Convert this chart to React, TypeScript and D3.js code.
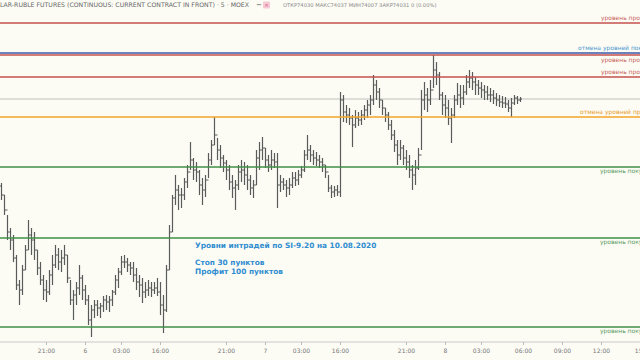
import React, { useRef, useEffect } from 'react'
import * as d3 from 'd3'

// 5-min bars (thinned), SI-9.20, prices
const highs = [
  73615, 73555, 73455, 73390, 73355, 73255, 73130, 73205, 73305, 73430, 73390, 73370, 73280, 73220, 73155, 73130,
  73180, 73255, 73305, 73290, 73280, 73305, 73255, 73130, 73080, 73120, 73205, 73155, 73105, 73055, 73005, 73030,
  73030, 73015, 73050, 73055, 73050, 73080, 73155, 73190, 73250, 73255, 73240, 73220, 73220, 73190, 73155, 73140,
  73120, 73130, 73120, 73120, 73140, 73120, 73055, 73205, 73405, 73555, 73655, 73605, 73590, 73640, 73705, 73820,
  73740, 73720, 73680, 73640, 73655, 73765, 73830, 73945, 73840, 73805, 73755, 73730, 73705, 73655, 73630, 73705,
  73730, 73720, 73705, 73655, 73630, 73780, 73820, 73845, 73790, 73755, 73780, 73765, 73765, 73655, 73640, 73630,
  73640, 73670, 73670, 73680, 73700, 73780, 73855, 73805, 73780, 73770, 73755, 73740, 73705, 73655, 73605, 73600,
  73605, 74070, 74055, 74005, 73990, 73955, 73980, 73970, 73980, 74005, 74030, 74055, 74155, 74130, 74090, 74030,
  73990, 73970, 73930, 73880, 73830, 73830, 73805, 73780, 73755, 73705, 73730, 73790, 74080, 74120, 74090, 74130,
  74255, 74220, 74170, 74070, 74055, 74030, 73990, 74055, 74115, 74105, 74105, 74155, 74180, 74170, 74145, 74130,
  74120, 74105, 74100, 74090, 74080, 74065, 74055, 74050, 74045, 74030, 74040, 74055, 74050, 74045,
]
const lows = [
  73530, 73455, 73330, 73280, 73220, 73080, 73005, 73055, 73180, 73280, 73255, 73230, 73155, 73105, 73030, 73020,
  73055, 73105, 73190, 73180, 73170, 73205, 73115, 73005, 72930, 73005, 73055, 73030, 73005, 72905, 72845, 72940,
  72950, 72940, 72970, 72980, 72970, 73000, 73055, 73090, 73155, 73190, 73170, 73155, 73120, 73080, 73045, 73015,
  73040, 73050, 73045, 73060, 73050, 72955, 72865, 72970, 73180, 73370, 73505, 73480, 73490, 73530, 73590, 73680,
  73630, 73620, 73555, 73505, 73545, 73640, 73705, 73805, 73730, 73690, 73670, 73630, 73580, 73540, 73480, 73580,
  73620, 73605, 73580, 73555, 73540, 73605, 73680, 73730, 73690, 73670, 73680, 73690, 73490, 73570, 73580, 73545,
  73555, 73590, 73600, 73605, 73640, 73670, 73730, 73720, 73705, 73700, 73690, 73670, 73640, 73570, 73540, 73545,
  73550, 73545, 73920, 73915, 73905, 73795, 73890, 73900, 73905, 73930, 73940, 73955, 74005, 74030, 73990, 73955,
  73920, 73880, 73830, 73770, 73705, 73730, 73705, 73680, 73640, 73580, 73605, 73680, 73780, 73980, 73970, 74005,
  74090, 74105, 74030, 73955, 73940, 73905, 73815, 73940, 74005, 73990, 74005, 74055, 74090, 74080, 74055, 74055,
  74040, 74030, 74030, 74020, 74010, 74000, 73995, 73990, 73990, 73970, 73945, 74005, 74010, 74020,
]
const closes = [
  73555, 73480, 73370, 73330, 73240, 73105, 73080, 73180, 73280, 73355, 73330, 73280, 73190, 73130, 73080, 73070,
  73155, 73205, 73255, 73220, 73240, 73255, 73140, 73030, 73055, 73090, 73140, 73080, 73030, 72930, 72980, 73005,
  72990, 73000, 73030, 73020, 73030, 73070, 73130, 73170, 73220, 73220, 73205, 73190, 73155, 73120, 73105, 73070,
  73080, 73090, 73080, 73090, 73070, 73005, 72980, 73180, 73370, 73540, 73580, 73555, 73555, 73620, 73670, 73730,
  73680, 73670, 73605, 73580, 73630, 73730, 73805, 73855, 73780, 73740, 73715, 73680, 73620, 73590, 73605, 73670,
  73680, 73655, 73630, 73590, 73605, 73740, 73780, 73790, 73730, 73705, 73730, 73720, 73605, 73620, 73605, 73590,
  73605, 73640, 73630, 73655, 73680, 73755, 73780, 73755, 73740, 73730, 73720, 73705, 73670, 73590, 73570, 73580,
  73570, 74030, 73970, 73955, 73940, 73905, 73940, 73930, 73955, 73980, 74005, 74030, 74105, 74070, 74030, 73990,
  73955, 73905, 73855, 73805, 73755, 73790, 73740, 73720, 73680, 73655, 73690, 73755, 74030, 74055, 74030, 74080,
  74180, 74155, 74055, 74005, 73990, 73940, 73955, 74030, 74055, 74040, 74070, 74120, 74140, 74120, 74105, 74090,
  74080, 74070, 74055, 74055, 74040, 74030, 74020, 74015, 74010, 73990, 74015, 74040, 74030, 74035,
]
const firstOpen = 73600

// levels for 10.08.2020
const levelPrices = [74415, 74265, 74255, 74145, 73945, 73695, 73340, 72895]
const levelKinds = ['sell', 'cancelBuy', 'sell', 'sell', 'cancelSell', 'buy', 'buy', 'buy']
const levelNames = {
  sell: 'уровень продаж',
  buy: 'уровень покупок',
  cancelBuy: 'отмена уровней покупок',
  cancelSell: 'отмена уровней продаж',
}

const tickIndex = [15, 28, 40, 53, 75, 88, 100, 113, 135, 148, 160, 174, 187, 200, 214]
const tickLabels = ['21:00', '6', '03:00', '16:00', '21:00', '7', '03:00', '16:00', '21:00', '8', '03:00', '06:00', '09:00', '12:00', '15:00']

const noteLines = ['Уровни интрадей по SI-9.20 на 10.08.2020', 'Стоп 30 пунктов', 'Профит 100 пунктов']

export default function App() {
  const svgRef = useRef<SVGSVGElement>(null)

  useEffect(() => {
    const svg = d3.select(svgRef.current)
    svg.selectAll('*').remove()

    const width = 640, height = 360, plotBottom = 342
    const font = '"DejaVu Sans", "Liberation Sans", sans-serif'

    svg.append('rect').attr('width', width).attr('height', height).attr('fill', '#fcfcf5')

    const x = d3.scaleLinear().domain([0, 213]).range([1, 640])
    const y = d3.scaleLinear().domain([72820, 74530]).range([plotBottom, 0])

    const colors = { sell: '#c4514c', buy: '#3f8f45', cancelBuy: '#3b5aa8', cancelSell: '#f2a428' }
    const textColors = { sell: '#c9605a', buy: '#5a9a5e', cancelBuy: '#4b95cf', cancelSell: '#e99a2a' }
    // where each label sits relative to its line
    const labelDy = [-5, -5, 5, -5, -5, 4, 4, 4]
    const labelX = { sell: 601, buy: 600, cancelBuy: 578, cancelSell: 580 }

    // current price line
    svg.append('line')
      .attr('x1', 0).attr('x2', width)
      .attr('y1', y(closes[closes.length - 1])).attr('y2', y(closes[closes.length - 1]))
      .attr('stroke', '#bdbdbd').attr('stroke-width', 1.2)

    // bars
    const bars = svg.append('g').attr('stroke', '#5a5a5a').attr('stroke-width', 1.2)
    closes.forEach((c, i) => {
      const xi = Math.round(x(i)) + 0.5
      const o = i === 0 ? firstOpen : closes[i - 1]
      bars.append('line').attr('x1', xi).attr('x2', xi).attr('y1', y(highs[i])).attr('y2', y(lows[i]))
      bars.append('line').attr('x1', xi - 1.5).attr('x2', xi).attr('y1', y(o)).attr('y2', y(o))
      bars.append('line').attr('x1', xi).attr('x2', xi + 1.5).attr('y1', y(c)).attr('y2', y(c))
    })

    // level lines + labels
    levelPrices.forEach((p, i) => {
      const k = levelKinds[i]
      svg.append('line')
        .attr('x1', 0).attr('x2', width).attr('y1', y(p)).attr('y2', y(p))
        .attr('stroke', colors[k]).attr('stroke-width', 1.6)
      svg.append('text')
        .attr('x', labelX[k]).attr('y', y(p) + labelDy[i])
        .attr('dy', '0.35em')
        .attr('fill', textColors[k]).attr('font-size', 6).attr('font-family', font)
        .text(levelNames[k])
    })

    // note
    noteLines.forEach((t, i) => {
      svg.append('text')
        .attr('x', 195).attr('y', [248, 265, 274][i])
        .attr('fill', '#2f8cd0').attr('font-size', 7.4).attr('font-weight', 'bold')
        .attr('font-family', font)
        .text(t)
    })

    // x axis
    const axis = svg.append('g').attr('transform', `translate(0,${plotBottom})`)
      .call(d3.axisBottom(x).tickValues(tickIndex).tickFormat((d, i) => tickLabels[i]).tickSize(3).tickPadding(4))
    axis.select('.domain').attr('stroke', '#c8c8c8').attr('d', `M0,0H${width}`)
    axis.selectAll('.tick line').attr('stroke', '#bbb')
    axis.selectAll('.tick text').attr('fill', '#777').attr('font-size', 6).attr('font-family', font)

    // header
    svg.append('text').attr('x', 0).attr('y', 7)
      .attr('fill', '#666').attr('font-size', 6.2).attr('font-family', font)
      .text('LAR-RUBLE FUTURES (CONTINUOUS: CURRENT CONTRACT IN FRONT) · 5 · MOEX')
    svg.append('text').attr('x', 256).attr('y', 7)
      .attr('fill', '#444').attr('font-size', 7).attr('font-family', font).text('−')
    svg.append('rect').attr('x', 263).attr('y', 1.5).attr('width', 7).attr('height', 7)
      .attr('rx', 1).attr('fill', '#f6c9d4')
    svg.append('text').attr('x', 266.5).attr('y', 7).attr('text-anchor', 'middle')
      .attr('fill', '#d0507a').attr('font-size', 5.5).attr('font-family', font).text('×')
    svg.append('text').attr('x', 283).attr('y', 7)
      .attr('fill', '#888').attr('font-size', 5.2).attr('font-family', font)
      .text('ОТКР74030  МАКС74037  МИН74007  ЗАКР74031  0 (0.00%)')
  }, [])

  return <svg ref={svgRef} width={640} height={360} style={{ position: 'absolute', left: 0, top: 0 }} />
}
